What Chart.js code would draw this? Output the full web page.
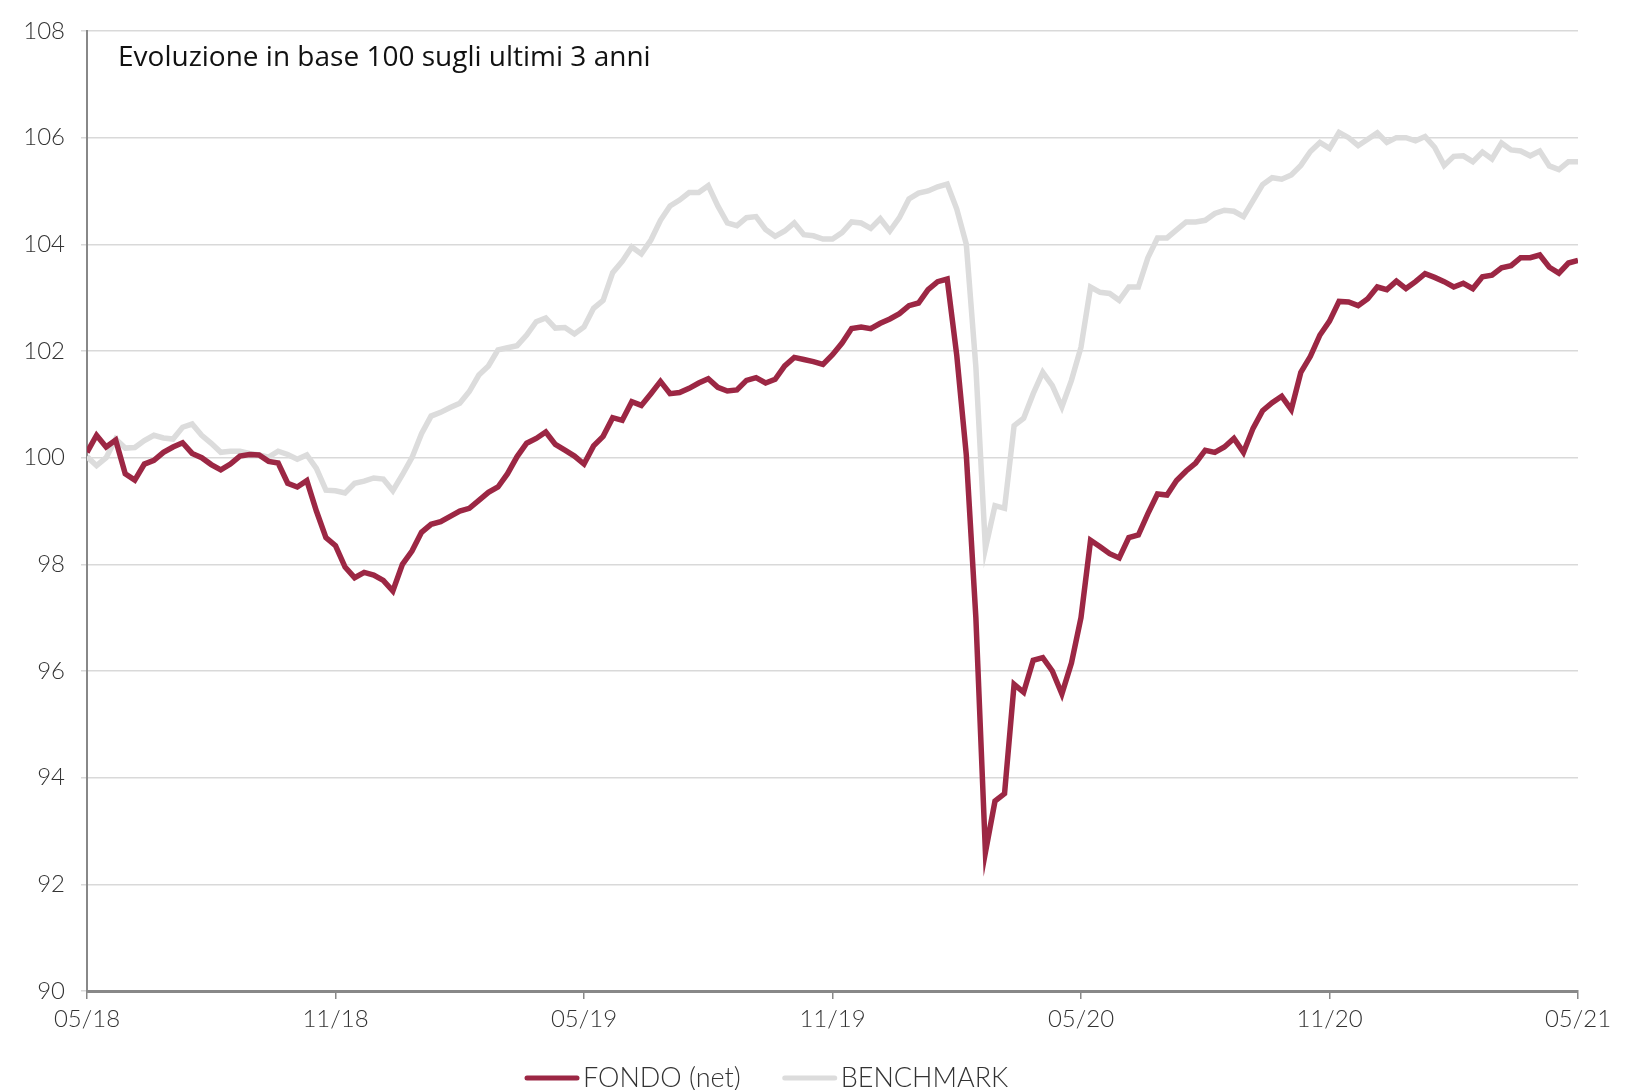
<!DOCTYPE html>
<html>
<head>
<meta charset="utf-8">
<script src="https://cdn.jsdelivr.net/npm/chart.js@4.4.1/dist/chart.umd.min.js"></script>
<style>
  html, body { margin: 0; padding: 0; background: #fff; }
  #wrap { width: 1628px; height: 1090px; }
</style>
</head>
<body>
<div id="wrap"><canvas id="perf" width="1628" height="1090"></canvas></div>
<script>
// weekly points, 05/2018 -> 05/2021
const tickLabels = ['05/18', '11/18', '05/19', '11/19', '05/20', '11/20', '05/21'];
const weeksPerTick = 26;

const fondo = [
  100.1, 100.42, 100.2, 100.33, 99.7, 99.58, 99.88, 99.95, 100.1, 100.2,
  100.28, 100.08, 100.0, 99.87, 99.77, 99.88, 100.03, 100.06, 100.05, 99.93,
  99.9, 99.52, 99.45, 99.57, 99.0, 98.5, 98.35, 97.95, 97.75, 97.85,
  97.8, 97.7, 97.5, 98.0, 98.25, 98.6, 98.75, 98.8, 98.9, 99.0,
  99.05, 99.2, 99.35, 99.45, 99.7, 100.02, 100.27, 100.36, 100.48, 100.25,
  100.14, 100.03, 99.88, 100.22, 100.4, 100.75, 100.7, 101.05, 100.98, 101.2,
  101.43, 101.2, 101.22, 101.3, 101.4, 101.48, 101.32, 101.25, 101.27, 101.45,
  101.5, 101.4, 101.47, 101.72, 101.88, 101.84, 101.8, 101.75, 101.93, 102.15,
  102.42, 102.45, 102.42, 102.52, 102.6, 102.7, 102.85, 102.9, 103.15, 103.3,
  103.35, 101.92, 100.05, 97.0, 92.6, 93.56, 93.7, 95.75, 95.6, 96.2,
  96.25, 96.0, 95.57, 96.15, 97.0, 98.45, 98.33, 98.2, 98.12, 98.5,
  98.55, 98.95, 99.32, 99.3, 99.57, 99.75, 99.9, 100.14, 100.1, 100.2,
  100.36, 100.1, 100.55, 100.88, 101.03, 101.15, 100.9, 101.6, 101.9, 102.3,
  102.56, 102.93, 102.92, 102.85, 102.98, 103.2, 103.15, 103.31, 103.17, 103.3,
  103.45, 103.38, 103.3, 103.2, 103.27, 103.17, 103.39, 103.42, 103.56, 103.6,
  103.75, 103.75, 103.8, 103.57, 103.46, 103.65, 103.7
];

const benchmark = [
  100.02, 99.85, 100.0, 100.35, 100.18, 100.19, 100.32, 100.42, 100.37, 100.35,
  100.57, 100.63, 100.42, 100.27, 100.1, 100.12, 100.12, 100.08, 100.05, 100.01,
  100.12, 100.06, 99.97, 100.05, 99.8, 99.39, 99.38, 99.34, 99.52, 99.56,
  99.62, 99.6, 99.38, 99.68, 100.0, 100.45, 100.78, 100.85, 100.94, 101.02,
  101.24, 101.55, 101.72, 102.02, 102.06, 102.1, 102.3, 102.55, 102.62, 102.43,
  102.44, 102.32, 102.45, 102.8, 102.95, 103.47, 103.68, 103.95, 103.82, 104.08,
  104.45, 104.72, 104.83, 104.97, 104.97, 105.1, 104.72, 104.4, 104.35, 104.5,
  104.52, 104.28, 104.15, 104.25, 104.4, 104.18, 104.16, 104.1, 104.1, 104.22,
  104.42, 104.4, 104.3, 104.48, 104.25, 104.5, 104.85, 104.96, 105.0, 105.08,
  105.13, 104.66, 104.0, 101.7, 98.3, 99.1, 99.05, 100.6, 100.74, 101.2,
  101.6, 101.35, 100.95, 101.45, 102.07, 103.2, 103.1, 103.08, 102.95, 103.2,
  103.2, 103.75, 104.12, 104.12, 104.27, 104.42, 104.42, 104.45, 104.58, 104.64,
  104.62, 104.52, 104.82, 105.12, 105.25, 105.22, 105.3, 105.48, 105.74, 105.91,
  105.8, 106.1, 106.0, 105.85, 105.97, 106.09, 105.91, 106.0, 106.0, 105.94,
  106.02, 105.82, 105.48, 105.65, 105.66, 105.55, 105.73, 105.6, 105.9, 105.77,
  105.75, 105.66, 105.75, 105.47, 105.4, 105.55, 105.55
];

const chartTitle = 'Evoluzione in base 100 sugli ultimi 3 anni';
const fontFamily = 'Lato, "Open Sans", sans-serif';

function toPoints(values) {
  return values.map((v, i) => ({ x: i, y: v }));
}

const titleInside = {
  id: 'titleInside',
  afterDraw(chart) {
    const ctx = chart.ctx;
    const area = chart.chartArea;
    ctx.save();
    ctx.fillStyle = '#111';
    ctx.font = '400 28px "Open Sans", sans-serif';
    ctx.textBaseline = 'middle';
    ctx.fillText(chartTitle, area.left + 31, area.top + 27);
    ctx.restore();
  }
};

// legend drawn by hand: short rounded line, text right after it
const lineLegend = {
  id: 'lineLegend',
  afterDraw(chart) {
    const ctx = chart.ctx;
    const y = chart.chartArea.bottom + 87;
    let x = chart.chartArea.left + 438;
    ctx.save();
    ctx.font = '300 27px ' + fontFamily;
    ctx.textBaseline = 'middle';
    chart.data.datasets.forEach((ds) => {
      ctx.strokeStyle = ds.borderColor;
      ctx.lineWidth = 5;
      ctx.lineCap = 'round';
      ctx.beginPath();
      ctx.moveTo(x + 2, y);
      ctx.lineTo(x + 52, y);
      ctx.stroke();
      ctx.fillStyle = '#333';
      ctx.fillText(ds.label, x + 58, y);
      x += 58 + ctx.measureText(ds.label).width + 42;
    });
    ctx.restore();
  }
};

document.addEventListener('DOMContentLoaded', () => {
  main();
});

function main() {
  const ctx = document.querySelector('#perf').getContext('2d');
  new Chart(ctx, {
    type: 'line',
    data: {
      datasets: [
        {
          label: 'FONDO (net)',
          data: toPoints(fondo),
          borderColor: '#9c2744',
          borderWidth: 5.5,
          pointRadius: 0,
          tension: 0,
        },
        {
          label: 'BENCHMARK',
          data: toPoints(benchmark),
          borderColor: '#dcdcdc',
          borderWidth: 5.5,
          pointRadius: 0,
          tension: 0,
        }
      ],
    },
    options: {
      responsive: false,
      animation: false,
      layout: { padding: { left: 0, right: 50, top: 31, bottom: 59 } },
      scales: {
        x: {
          type: 'linear',
          min: 0,
          max: 156,
          afterFit: (scale) => { scale.height = 40; },
          ticks: {
            stepSize: weeksPerTick,
            autoSkip: false,
            maxRotation: 0,
            color: '#333',
            padding: 6,
            font: { family: fontFamily, size: 24, weight: '300' },
            callback: (value) => tickLabels[value / weeksPerTick],
          },
          grid: { drawOnChartArea: false, drawTicks: true, tickLength: 8, color: '#888', lineWidth: 1.5 },
          border: { color: '#888', width: 3 },
        },
        y: {
          min: 90,
          max: 108,
          afterFit: (scale) => { scale.width = 87; },
          ticks: {
            stepSize: 2,
            color: '#333',
            padding: 16,
            font: { family: fontFamily, size: 24, weight: '300' },
          },
          grid: { color: '#d9d9d9', lineWidth: 1.5, tickLength: 6 },
          border: { color: '#888', width: 2 },
        }
      },
      plugins: {
        legend: { display: false },
        tooltip: { enabled: false },
      },
    },
    plugins: [titleInside, lineLegend],
  });
}
</script>
</body>
</html>
